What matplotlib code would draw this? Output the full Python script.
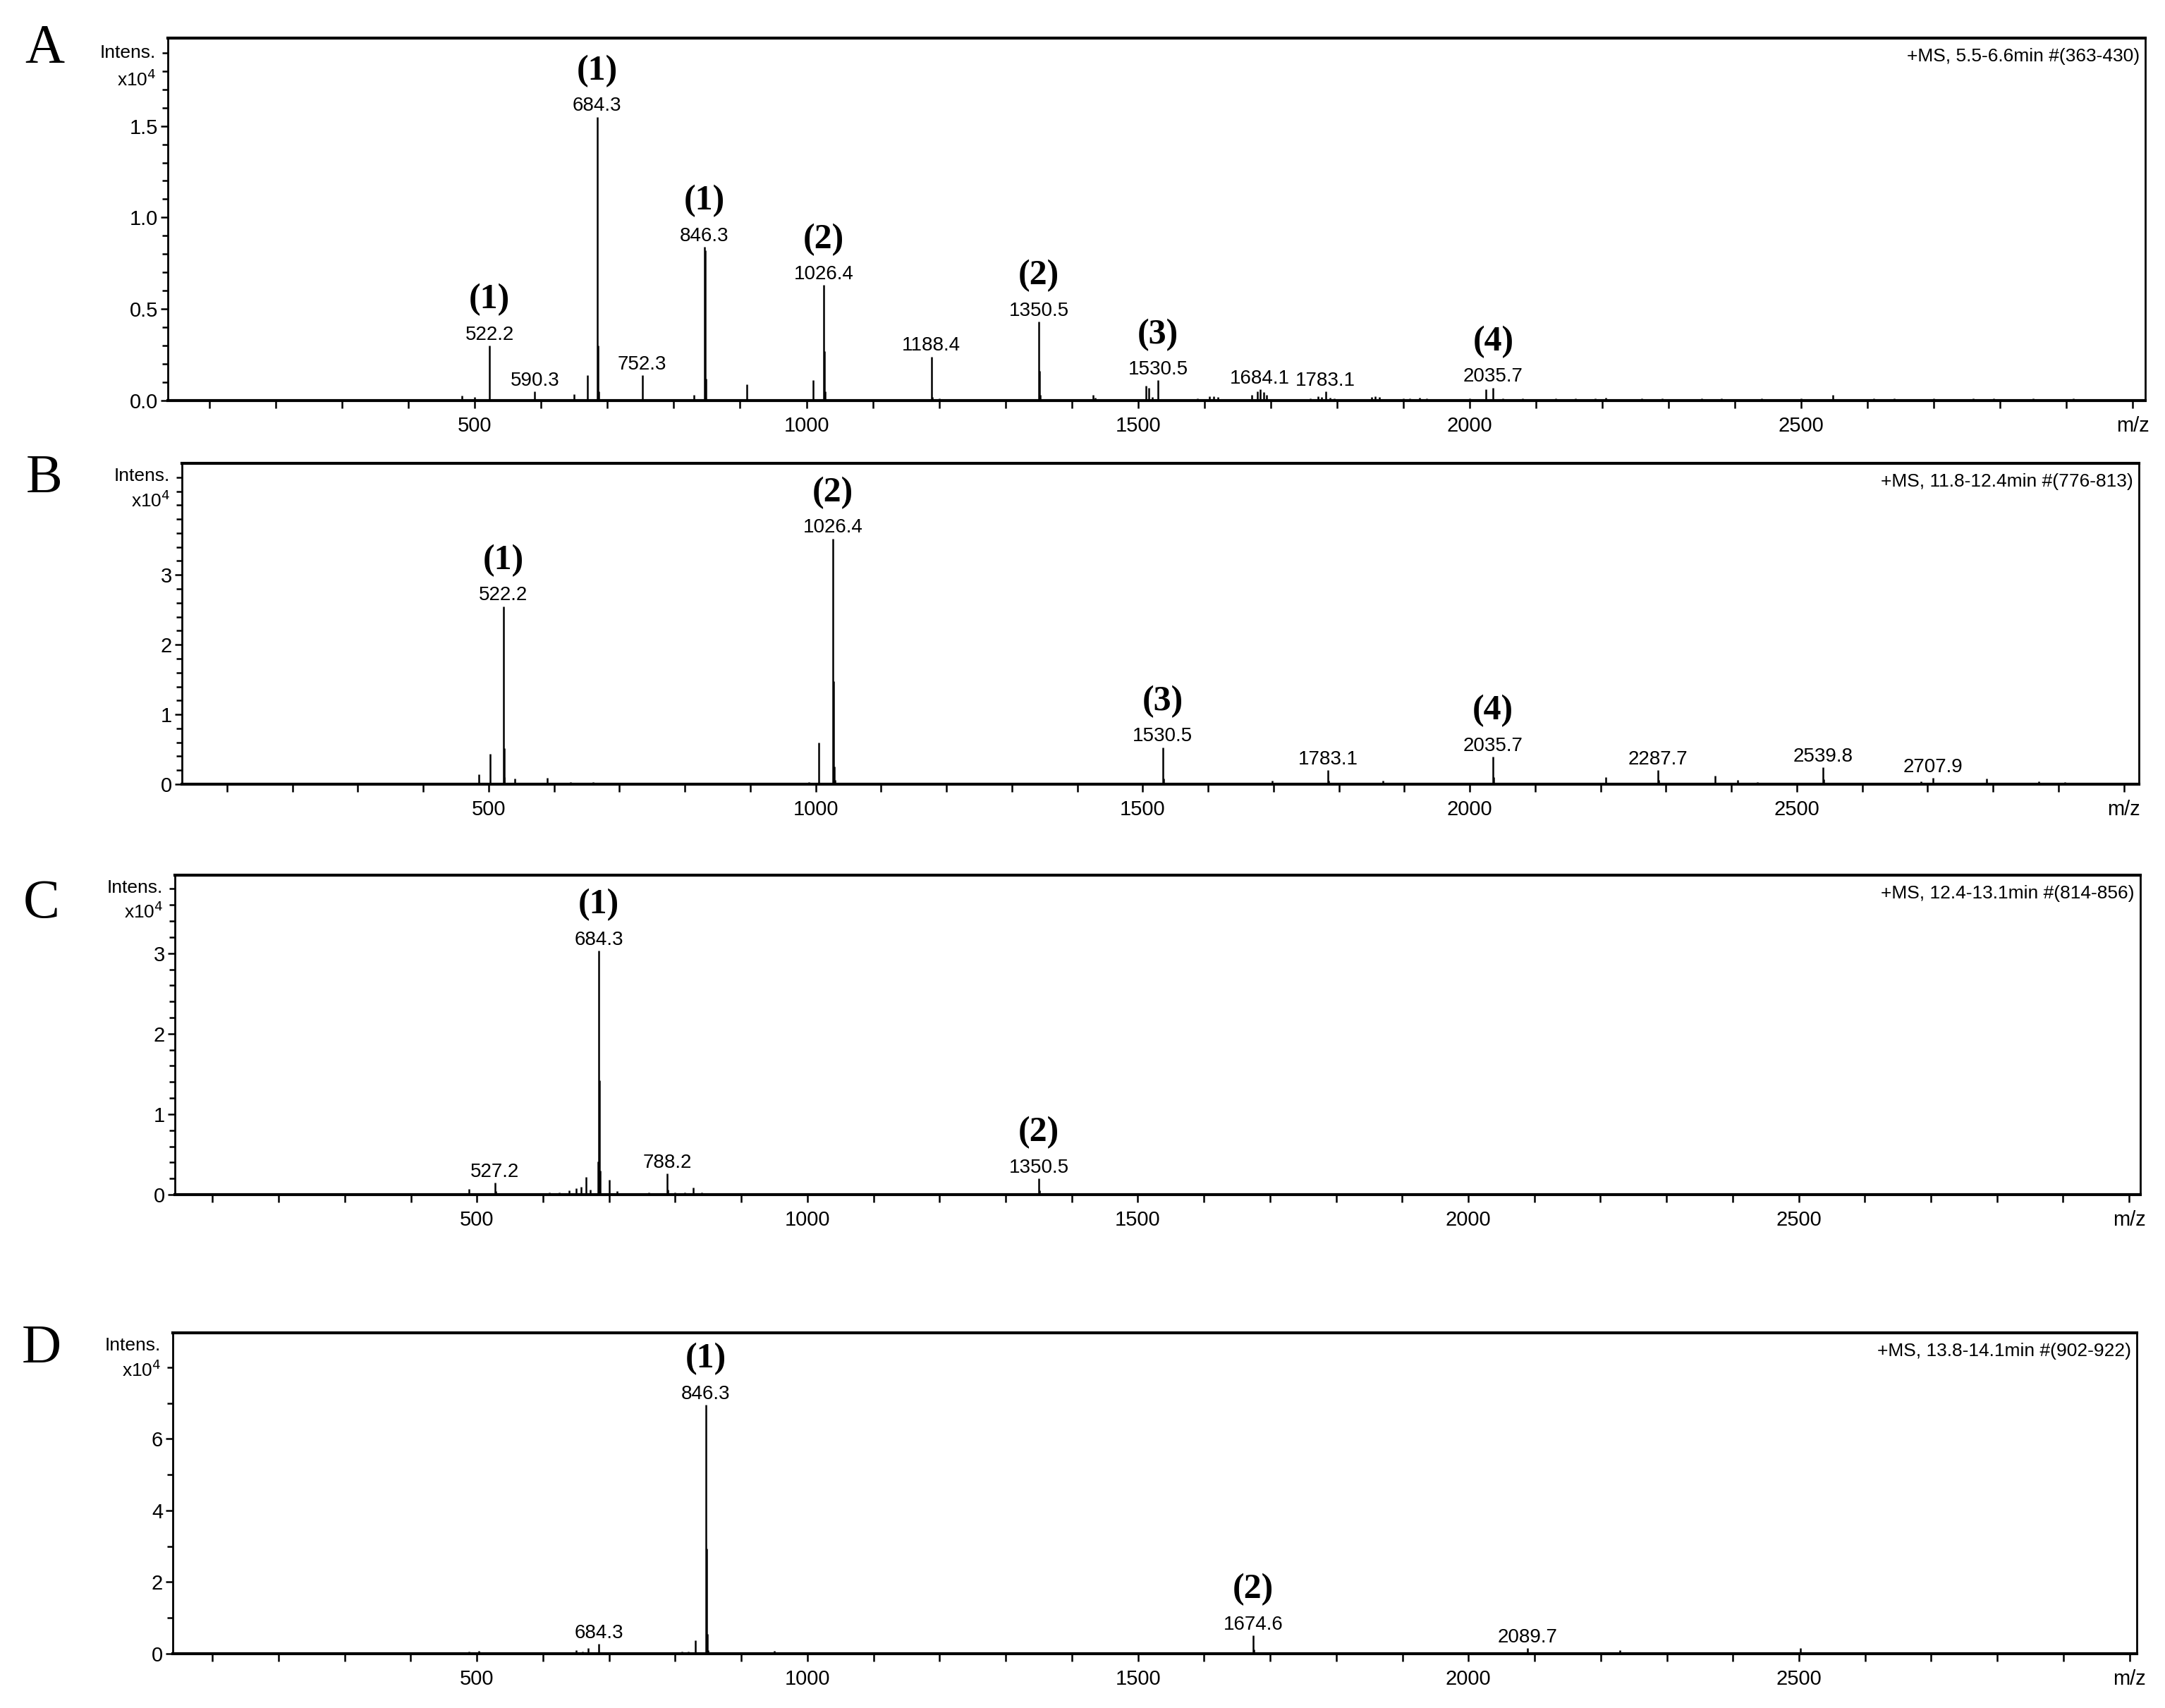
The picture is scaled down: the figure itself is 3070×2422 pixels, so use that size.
import matplotlib.pyplot as plt
import numpy as np
from matplotlib.ticker import FixedLocator, FuncFormatter

plt.rcParams['font.family'] = ['Liberation Sans', 'DejaVu Sans']

# ---- data (m/z, intensity x10^4) ----
mz_a = [480, 500, 522.2, 590.3, 650, 670, 684.3, 685.3, 686.3, 752.3, 830, 846.3, 847.3, 848.3,
        910, 1010, 1026.4, 1027.4, 1028.4, 1188.4, 1189.4, 1200, 1350.5, 1351.5, 1352.5,
        1432, 1436, 1512, 1516, 1522, 1530.5, 1590, 1608, 1614, 1620, 1672, 1680, 1684.1,
        1690, 1694, 1760, 1772, 1777, 1783.1, 1790, 1796, 1852, 1858, 1864, 1900, 1910,
        1925, 1935, 2000, 2025, 2035.7, 2050, 2080, 2100, 2130, 2160, 2190, 2205, 2230,
        2260, 2290, 2320, 2350, 2380, 2410, 2440, 2470, 2500, 2548, 2580, 2610, 2640,
        2670, 2700, 2730, 2760, 2790, 2820, 2850, 2880, 2910, 2940]
int_a = [0.026, 0.02, 0.30, 0.05, 0.035, 0.137, 1.55, 0.30, 0.05, 0.137, 0.03, 0.84, 0.82, 0.12,
         0.09, 0.11, 0.63, 0.27, 0.05, 0.24, 0.02, 0.01, 0.43, 0.16, 0.03,
         0.03, 0.015, 0.08, 0.07, 0.02, 0.11, 0.01, 0.025, 0.025, 0.02, 0.03, 0.05, 0.06,
         0.045, 0.03, 0.01, 0.025, 0.02, 0.05, 0.015, 0.01, 0.02, 0.025, 0.02, 0.01, 0.012,
         0.015, 0.01, 0.01, 0.06, 0.07, 0.01, 0.01, 0.008, 0.012, 0.01, 0.012, 0.015, 0.008,
         0.01, 0.012, 0.008, 0.01, 0.012, 0.008, 0.01, 0.008, 0.01, 0.03, 0.008, 0.01, 0.012,
         0.008, 0.01, 0.008, 0.01, 0.012, 0.008, 0.01, 0.008, 0.01, 0.008]
lab_mz_a = [522.2, 590.3, 684.3, 752.3, 846.3, 1026.4, 1188.4, 1350.5, 1530.5, 1684.1, 1783.1, 2035.7]
tag_a = ['(1)', '', '(1)', '', '(1)', '(2)', '', '(2)', '(3)', '', '', '(4)']
head_a = '+MS, 5.5-6.6min #(363-430)'

mz_b = [485, 502, 522.2, 523.2, 524.2, 540, 590, 625, 650, 660, 680, 800, 820, 840, 990, 1005,
        1026.4, 1027.4, 1028.4, 1029.4, 1530.5, 1531.5, 1698, 1783.1, 1784.1, 1867, 2035.7,
        2036.7, 2170, 2208, 2287.7, 2288.7, 2330, 2375, 2410, 2440, 2539.8, 2540.8, 2670,
        2690, 2707.9, 2790, 2870, 2910, 2940, 2960]
int_b = [0.14, 0.43, 2.55, 0.52, 0.1, 0.08, 0.09, 0.03, 0.02, 0.03, 0.02, 0.02, 0.02, 0.02, 0.03, 0.6,
         3.52, 1.48, 0.25, 0.06, 0.53, 0.08, 0.05, 0.2, 0.05, 0.05, 0.39,
         0.1, 0.02, 0.1, 0.2, 0.06, 0.02, 0.12, 0.06, 0.03, 0.24, 0.07, 0.02,
         0.04, 0.09, 0.08, 0.04, 0.03, 0.02, 0.02]
lab_mz_b = [522.2, 1026.4, 1530.5, 1783.1, 2035.7, 2287.7, 2539.8, 2707.9]
tag_b = ['(1)', '(2)', '(3)', '', '(4)', '', '', '']
head_b = '+MS, 11.8-12.4min #(776-813)'

mz_c = [488, 510, 527.2, 528.2, 590, 610, 625, 640, 650, 658, 665, 672, 683.3, 684.3, 685.3, 686.3,
        700, 712, 730, 745, 760, 788.2, 789.2, 800, 815, 827, 840, 860, 900, 1350.5, 1351.5, 2030]
int_c = [0.07, 0.02, 0.15, 0.04, 0.02, 0.025, 0.03, 0.05, 0.08, 0.1, 0.22, 0.06, 0.41, 3.03, 1.42, 0.3,
         0.18, 0.04, 0.02, 0.02, 0.03, 0.26, 0.06, 0.03, 0.03, 0.09, 0.03, 0.02, 0.015, 0.2, 0.05, 0.01]
lab_mz_c = [527.2, 684.3, 788.2, 1350.5]
tag_c = ['', '(1)', '', '(2)']
head_c = '+MS, 12.4-13.1min #(814-856)'

mz_d = [488, 503, 650, 660, 668, 684.3, 810, 820, 830, 846.3, 847.3, 848.3, 849.3, 870, 950, 1250,
        1512, 1674.6, 1675.6, 1955, 2012, 2089.7, 2229, 2502, 2790]
int_d = [0.05, 0.08, 0.1, 0.06, 0.15, 0.27, 0.05, 0.06, 0.37, 6.95, 2.94, 0.55, 0.1, 0.04, 0.07, 0.04,
         0.04, 0.51, 0.12, 0.03, 0.04, 0.15, 0.1, 0.15, 0.03]
lab_mz_d = [684.3, 846.3, 1674.6, 2089.7]
tag_d = ['', '(1)', '(2)', '']
head_d = '+MS, 13.8-14.1min #(902-922)'

W, H = 3070, 2422
fig = plt.figure(figsize=(W / 200, H / 200), dpi=200)

# layout in pixels: left, right, top, bottom ; letter position
panels = [
    ('A', mz_a, int_a, lab_mz_a, tag_a, head_a, (238, 3042, 54, 568), (37, 3019), 1.98,
     [0, 0.5, 1.0, 1.5], 0.1, 1.9, '%.1f', (63, 69)),
    ('B', mz_b, int_b, lab_mz_b, tag_b, head_b, (258, 3033, 657, 1112), (31, 3023), 4.6,
     [0, 1, 2, 3], 0.2, 4.4, '%d', (63, 679)),
    ('C', mz_c, int_c, lab_mz_c, tag_c, head_c, (248, 3035, 1241, 1694), (43, 3017), 3.97,
     [0, 1, 2, 3], 0.2, 3.8, '%d', (59, 1282)),
    ('D', mz_d, int_d, lab_mz_d, tag_d, head_d, (245, 3030, 1890, 2345), (40, 3011), 8.96,
     [0, 2, 4, 6], 1, 8, '%d', (59, 1913)),
]


def xfmt(v, p):
    v = int(round(v))
    if v == 3000:
        return 'm/z'
    if v % 500 == 0:
        return str(v)
    return ''


for (letter, mz, inten, lab_mz, tags, head, box, xl, ymax,
     major, mstep, mtop, fmt, lpos) in panels:
    l, r, t, b = box
    ax = fig.add_axes([l / W, 1 - b / H, (r - l) / W, (b - t) / H])
    mz = np.array(mz)
    inten = np.array(inten)
    ax.vlines(mz, 0, inten, color='black', lw=0.9)
    ax.set_xlim(*xl)
    ax.set_ylim(0, ymax)

    ax.xaxis.set_major_locator(FixedLocator(np.arange(100, 3001, 100)))
    ax.xaxis.set_major_formatter(FuncFormatter(xfmt))
    ax.yaxis.set_major_locator(FixedLocator(major))
    ax.yaxis.set_major_formatter(FuncFormatter(lambda v, p, f=fmt: f % v))
    ax.yaxis.set_minor_locator(FixedLocator(np.arange(0, mtop + 1e-6, mstep)))
    ax.tick_params(axis='x', direction='out', length=4, width=0.9, pad=4, labelsize=10.5)
    ax.tick_params(axis='y', which='major', direction='out', length=3.5, width=0.9, pad=1.5,
                   labelsize=10.5)
    ax.tick_params(axis='y', which='minor', direction='out', length=3, width=0.9)
    for s in ['top', 'bottom']:
        ax.spines[s].set_linewidth(1.5)
    for s in ['left', 'right']:
        ax.spines[s].set_linewidth(1.0)

    # peak labels
    for lm, tg in zip(lab_mz, tags):
        h = inten[np.argmin(np.abs(mz - lm))]
        ax.annotate('%.1f' % lm, xy=(lm, h), xytext=(0, 3), textcoords='offset points',
                    ha='center', va='baseline', fontsize=10)
        if tg:
            ax.annotate(tg, xy=(lm, h), xytext=(0, 19), textcoords='offset points',
                        ha='center', va='baseline', fontsize=18, fontweight='bold',
                        family=['Liberation Serif', 'DejaVu Serif'])

    ax.annotate(head, xy=(1, 1), xycoords='axes fraction', xytext=(-3, -5),
                textcoords='offset points', ha='right', va='top', fontsize=9.5)
    ax.annotate('Intens.', xy=(0, 0.96), xycoords='axes fraction', xytext=(-6, 0),
                textcoords='offset points', ha='right', va='center', fontsize=9.5)
    ax.annotate('x10$^4$', xy=(0, 0.885), xycoords='axes fraction', xytext=(-6, 0),
                textcoords='offset points', ha='right', va='center', fontsize=9.5)

    fig.text(lpos[0] / W, 1 - lpos[1] / H, letter, ha='center', va='center', fontsize=28,
             family=['Liberation Serif', 'DejaVu Serif'])

plt.savefig('out.png', dpi=200)
